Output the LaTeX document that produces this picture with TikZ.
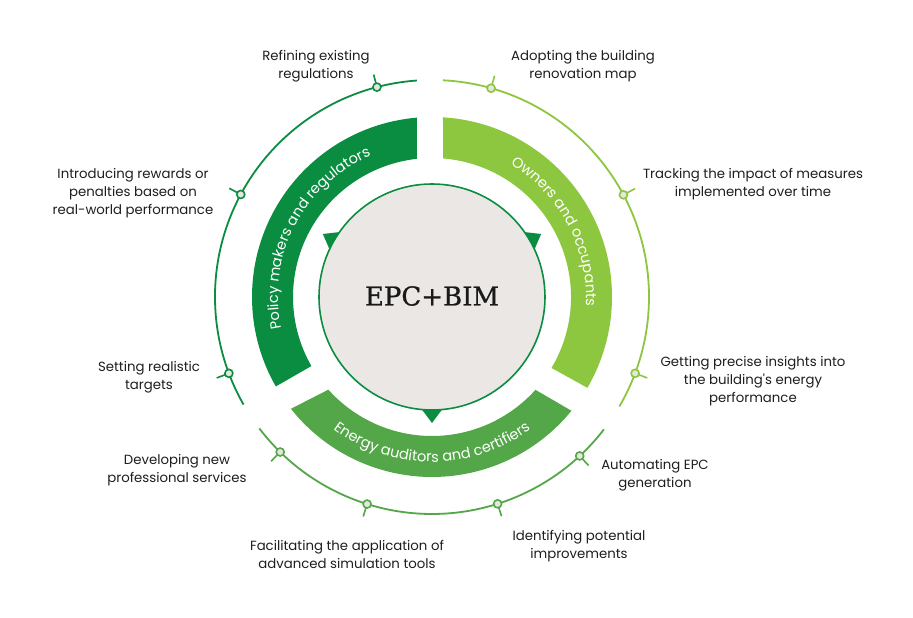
\documentclass[tikz,border=0pt]{standalone}
\usepackage{fontspec}
\usetikzlibrary{decorations.text}
\newfontfamily\labelfont{Poppins}
\newfontfamily\epcfont[FakeBold=0.8]{DejaVu Serif}
\definecolor{policyc}{RGB}{10,141,65}
\definecolor{ownerc}{RGB}{141,198,63}
\definecolor{energyc}{RGB}{84,167,72}
\definecolor{corefill}{RGB}{235,231,228}
\definecolor{dotfill}{RGB}{230,230,224}
\definecolor{labeltext}{RGB}{30,30,30}
\tikzset{
  lbl/.style={font=\labelfont\fontsize{13.3}{18}\selectfont, text=labeltext, align=center, inner sep=0pt},
  ringarc/.style={line width=1.8pt},
  bandtext/.style={decorate, decoration={text along path, text align=center, text color=white}},
}
\newcommand{\milestone}[2]{%
  \draw[#1, line width=1.6pt] (#2:221pt) -- (#2:230pt);
  \draw[#1, line width=1.6pt, fill=dotfill] (#2:217pt) circle (4pt);
}
\begin{document}
\begin{tikzpicture}[x=1pt,y=1pt]
\useasboundingbox[fill=white] (-432,-321) rectangle (481,297);
% outer rings
\draw[policyc, ringarc] (94:217pt) arc[start angle=94, end angle=209.7, radius=217pt];
\draw[ownerc, ringarc] (87.1:217pt) arc[start angle=87.1, end angle=-30.3, radius=217pt];
\draw[energyc, ringarc] (217.3:217pt) arc[start angle=217.3, end angle=322.4, radius=217pt];
% milestones
\foreach \a in {104.7,151.8,200.6}{\milestone{policyc}{\a}}
\foreach \a in {74.2,28.1,339.4}{\milestone{ownerc}{\a}}
\foreach \a in {225.6,252.6,287.6,312.9}{\milestone{energyc}{\a}}
% bands
\fill[policyc] (94.8:180pt) arc[start angle=94.8, end angle=209.8, radius=180pt] -- (209.8:139pt) arc[start angle=209.8, end angle=96.2, radius=139pt] -- cycle;
\fill[ownerc] (86.5:180pt) arc[start angle=86.5, end angle=-30.3, radius=180pt] -- (-30.7:139pt) arc[start angle=-30.7, end angle=85.4, radius=139pt] -- cycle;
\fill[energyc] (218.4:180pt) arc[start angle=218.4, end angle=320.8, radius=180pt] -- (318.1:139pt) arc[start angle=318.1, end angle=221.8, radius=139pt] -- cycle;
% band texts
\path[bandtext, decoration={text={|\labelfont\fontsize{14.5}{16}\selectfont|Policy makers and regulators}}]
  (209:154pt) arc[start angle=209, end angle=96, radius=154pt];
\path[bandtext, decoration={text={|\labelfont\fontsize{14.5}{16}\selectfont|Owners and occupants}}]
  (85:154pt) arc[start angle=85, end angle=-29, radius=154pt];
\path[bandtext, decoration={text={|\labelfont\fontsize{14.5}{16}\selectfont|Energy auditors and certifiers}}]
  (222:165pt) arc[start angle=222, end angle=318, radius=165pt];
% triangles
\foreach \a in {30,150,270}{
  \fill[policyc] (\a:126pt) -- (\a+11:101.8pt) -- (\a-11:101.8pt) -- cycle;
}
% core
\node[circle, draw=policyc, line width=1.6pt, fill=corefill, minimum size=226pt, inner sep=0pt] (core) at (0,0) {};
\node[font=\epcfont\fontsize{26}{30}\selectfont, text=black!90] (epc) at (0,1) {EPC+BIM};
% labels
\node[lbl] (l1) at (-116,231) {Refining existing\\regulations};
\node[lbl] (l2) at (151,231) {Adopting the building\\renovation map};
\node[lbl] (l3) at (-299,104) {Introducing rewards or\\penalties based on\\real-world performance};
\node[lbl] (l4) at (321,113) {Tracking the impact of measures\\implemented over time};
\node[lbl] (l5) at (-283,-80) {Setting realistic\\targets};
\node[lbl] (l6) at (321,-84) {Getting precise insights into\\the building's energy\\performance};
\node[lbl] (l7) at (-255,-173) {Developing new\\professional services};
\node[lbl] (l8) at (223,-178) {Automating EPC\\generation};
\node[lbl] (l9) at (-85,-257) {Facilitating the application of\\advanced simulation tools};
\node[lbl] (l10) at (147,-249) {Identifying potential\\improvements};
\end{tikzpicture}
\end{document}
